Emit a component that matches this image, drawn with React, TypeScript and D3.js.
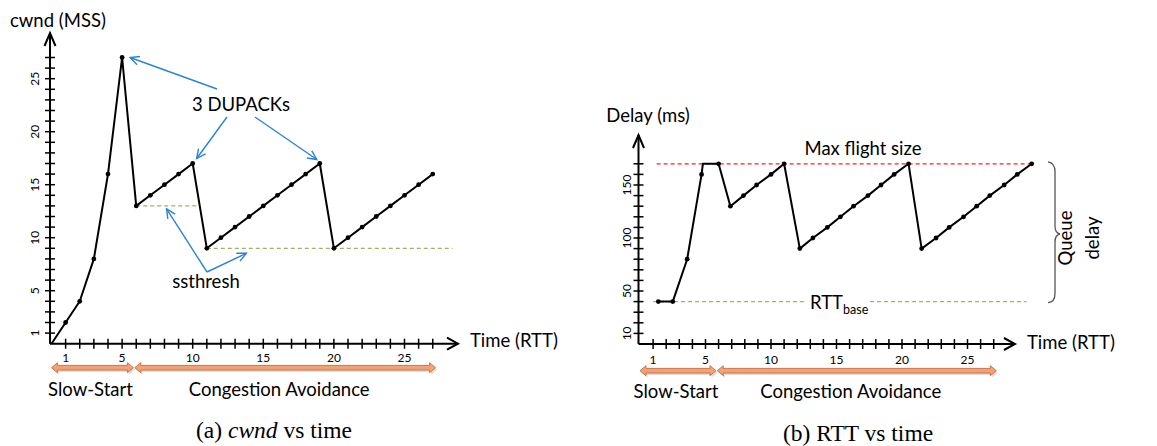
import React from 'react';
import * as d3 from 'd3';

const W = 1157;
const H = 446;

// ---------- chart (a): cwnd vs time ----------
const cwndTimes = [0, 1, 2, 3, 4, 5, 6, 7, 8, 9, 10, 11, 12, 13, 14, 15, 16, 17, 18, 19, 20, 21, 22, 23, 24, 25, 26, 27];
const cwndValues = [0, 2, 4, 8, 16, 27, 13, 14, 15, 16, 17, 9, 10, 11, 12, 13, 14, 15, 16, 17, 9, 10, 11, 12, 13, 14, 15, 16];
const cwndTickLabels = [1, 5, 10, 15, 20, 25];
const cwndMinorTicks = d3.range(1, 28);
const ssthreshLevels = [13, 9];
const ssthreshFrom = [6, 11];
const ssthreshTo = [10.5, 28.4];
const dupackTimes = [5, 10, 19];
const dupackValues = [27, 17, 17];

// ---------- chart (b): RTT vs time ----------
const rttTimes = [1.4, 2.5, 3.6, 4.7, 4.8, 6.0, 6.9, 7.9, 8.9, 10.0, 11.0, 12.2, 13.2, 14.3, 15.3, 16.3, 17.4, 18.4, 19.4, 20.5, 21.5, 22.6, 23.6, 24.7, 25.7, 26.7, 27.8, 28.8, 29.9];
const rttDelays = [40, 40, 80, 160, 170, 170, 130, 140, 150, 160, 170, 90, 100, 110, 120, 130, 140, 150, 160, 170, 90, 100, 110, 120, 130, 140, 150, 160, 170];
const rttVertexOnly = [4];
const delayTickLabels = [10, 50, 100, 150];
const delayMinorTicks = d3.range(10, 171, 10);
const rttBase = 40;
const rttBaseFrom = 1.0;
const rttBaseTo = 29.5;
const maxFlight = 170;
const maxFlightFrom = 1.27;
const maxFlightTo = 30.0;

// ---------- shared ----------
const timeTickLabels = [1, 5, 10, 15, 20, 25];
const timeMinorTicks = d3.range(1, 28);
const phaseNames = ['Slow-Start', 'Congestion Avoidance'];
const phaseFrom = [0, 5.9];
const phaseTo = [5.8, 27.2];

const SANS = 'Lato, "Open Sans", sans-serif';
const SERIF = '"Liberation Serif", "DejaVu Serif", serif';
const BLUE = '#2a84d2';
const GREEN = '#9bb36a';

function blueArrow(x1: number, y1: number, x2: number, y2: number, key: string) {
  const a = Math.atan2(y2 - y1, x2 - x1);
  const L = 10;
  const s = 0.45;
  const p1 = [x2 - L * Math.cos(a - s), y2 - L * Math.sin(a - s)];
  const p2 = [x2 - L * Math.cos(a + s), y2 - L * Math.sin(a + s)];
  return (
    <g key={key} stroke={BLUE} strokeWidth={1.4} fill="none">
      <line x1={x1} y1={y1} x2={x2} y2={y2} />
      <path d={`M${p1[0]},${p1[1]} L${x2},${y2} L${p2[0]},${p2[1]}`} />
    </g>
  );
}

function doubleArrow(x1: number, x2: number, y: number, key: string) {
  const sh = 2.3, hh = 5, hl = 6;
  const d = `M${x1},${y} L${x1 + hl},${y - hh} L${x1 + hl},${y - sh} L${x2 - hl},${y - sh} L${x2 - hl},${y - hh} L${x2},${y} L${x2 - hl},${y + hh} L${x2 - hl},${y + sh} L${x1 + hl},${y + sh} L${x1 + hl},${y + hh} Z`;
  return (
    <g key={key}>
      <path d={d} transform="translate(1.5,2)" fill="#bbbbbb" opacity={0.5} />
      <path d={d} fill="#f4a173" stroke="#c8774a" strokeWidth={1} />
    </g>
  );
}

function Axes(props: {
  x: d3.ScaleLinear<number, number>;
  y: d3.ScaleLinear<number, number>;
  xEnd: number;
  yTop: number;
  xTicks: number[];
  xLabels: number[];
  yTicks: number[];
  yLabels: number[];
  yLabelX: number;
  xLabelY: number;
}) {
  const { x, y, xEnd, yTop, xTicks, xLabels, yTicks, yLabels, yLabelX, xLabelY } = props;
  const ox = x(0) - 1.5;
  const oy = y(0);
  return (
    <g>
      <line x1={ox} y1={oy} x2={xEnd} y2={oy} stroke="#000" strokeWidth={2} />
      <line x1={ox} y1={oy} x2={ox} y2={yTop} stroke="#000" strokeWidth={2} />
      <path d={`M${xEnd - 11},${oy - 6} L${xEnd},${oy} L${xEnd - 11},${oy + 6}`} fill="none" stroke="#000" strokeWidth={2} />
      <path d={`M${ox - 5.5},${yTop + 13} L${ox},${yTop} L${ox + 5.5},${yTop + 13}`} fill="none" stroke="#000" strokeWidth={2} />
      {xTicks.map((t) => (
        <line key={'xt' + t} x1={x(t)} x2={x(t)} y1={oy - 5} y2={oy + 5} stroke="#000" strokeWidth={1.5} />
      ))}
      {yTicks.map((t) => (
        <line key={'yt' + t} x1={ox - 5} x2={ox + 5} y1={y(t)} y2={y(t)} stroke="#000" strokeWidth={1.5} />
      ))}
      {xLabels.map((t) => (
        <text key={'xl' + t} x={x(t)} y={xLabelY} textAnchor="middle" dominantBaseline="central" fontFamily={SANS} fontSize={12}>
          {t}
        </text>
      ))}
      {yLabels.map((t) => (
        <text key={'yl' + t} transform={`translate(${yLabelX},${y(t)}) rotate(-90)`} textAnchor="middle" dominantBaseline="central" fontFamily={SANS} fontSize={12}>
          {t}
        </text>
      ))}
    </g>
  );
}

export default function App() {
  // chart (a) scales
  const xA = d3.scaleLinear().domain([0, 27]).range([51.5, 51.5 + 27 * 14.12]);
  const yA = d3.scaleLinear().domain([0, 27]).range([343.7, 343.7 - 27 * 10.6]);
  // chart (b) scales
  const xB = d3.scaleLinear().domain([0, 27]).range([640, 640 + 27 * 13.1]);
  const yB = d3.scaleLinear().domain([0, 170]).range([344, 344 - 170 * 1.06]);

  const cwndPts: [number, number][] = cwndTimes.map((t, i) => [t, cwndValues[i]]);
  const rttPts: [number, number][] = rttTimes.map((t, i) => [t, rttDelays[i]]);

  const lineA = d3.line<[number, number]>().x((d) => xA(d[0])).y((d) => yA(d[1]));
  const lineB = d3.line<[number, number]>().x((d) => xB(d[0])).y((d) => yB(d[1]));

  // annotation tips derived from the data
  const dupOffsets = [[8, 0], [4, -5], [-3, -4]];
  const dupStarts = [[217, 89], [227, 117], [255, 117]];

  const ssTipA = [xA(8.15), yA(ssthreshLevels[0]) + 3];
  const ssTipB = [xA(13.8), yA(ssthreshLevels[1]) + 5];

  return (
    <svg width={W} height={H} style={{ position: 'absolute', left: 0, top: 0, background: '#fff' }}>
      <rect x={0} y={0} width={W} height={H} fill="#fff" />

      {/* ================= chart (a) ================= */}
      <text x={10} y={20} dominantBaseline="central" fontFamily={SANS} fontSize={18.5}>cwnd (MSS)</text>

      {ssthreshLevels.map((v, i) => (
        <line key={'ss' + i} x1={xA(ssthreshFrom[i])} x2={xA(ssthreshTo[i])} y1={yA(v)} y2={yA(v)} stroke={GREEN} strokeWidth={1.2} strokeDasharray="4,3" />
      ))}

      <Axes x={xA} y={yA} xEnd={458} yTop={33} xTicks={timeMinorTicks} xLabels={timeTickLabels} yTicks={cwndMinorTicks} yLabels={cwndTickLabels} yLabelX={34} xLabelY={357} />

      <path d={lineA(cwndPts) || ''} fill="none" stroke="#000" strokeWidth={2} strokeLinejoin="round" />
      {cwndPts.filter((d) => d[0] > 0).map((d, i) => (
        <circle key={'ca' + i} cx={xA(d[0])} cy={yA(d[1])} r={2.4} fill="#000" />
      ))}

      <text x={241} y={104} textAnchor="middle" dominantBaseline="central" fontFamily={SANS} fontSize={18.5}>3 DUPACKs</text>
      {dupackTimes.map((t, i) =>
        blueArrow(dupStarts[i][0], dupStarts[i][1], xA(t) + dupOffsets[i][0], yA(dupackValues[i]) + dupOffsets[i][1], 'dup' + i)
      )}

      <text x={206} y={281} textAnchor="middle" dominantBaseline="central" fontFamily={SANS} fontSize={18.5}>ssthresh</text>
      {blueArrow(207, 272, ssTipA[0], ssTipA[1], 'ssa')}
      {blueArrow(207, 272, ssTipB[0], ssTipB[1], 'ssb')}

      <text x={470} y={340} dominantBaseline="central" fontFamily={SANS} fontSize={18.5}>Time (RTT)</text>

      {phaseNames.map((n, i) => doubleArrow(xA(phaseFrom[i]), xA(phaseTo[i]), 367.7, 'pa' + i))}
      {phaseNames.map((n, i) => (
        <text key={'pla' + i} x={(xA(phaseFrom[i]) + xA(phaseTo[i])) / 2 - (i === 1 ? 6 : 2)} y={389} textAnchor="middle" dominantBaseline="central" fontFamily={SANS} fontSize={18.5}>{n}</text>
      ))}

      <text x={274} y={430} textAnchor="middle" dominantBaseline="central" fontFamily={SERIF} fontSize={23.5}>
        (a) <tspan fontStyle="italic">cwnd</tspan> vs time
      </text>

      {/* ================= chart (b) ================= */}
      <text x={648} y={115} textAnchor="middle" dominantBaseline="central" fontFamily={SANS} fontSize={18.5}>Delay (ms)</text>

      <line x1={xB(maxFlightFrom)} x2={xB(maxFlightTo)} y1={yB(maxFlight)} y2={yB(maxFlight)} stroke="#ff2020" strokeWidth={1.2} strokeDasharray="4,3" />
      <line x1={xB(rttBaseFrom)} x2={xB(rttBaseTo)} y1={yB(rttBase)} y2={yB(rttBase)} stroke={GREEN} strokeWidth={1.2} strokeDasharray="4,3" />

      <Axes x={xB} y={yB} xEnd={1015} yTop={135} xTicks={timeMinorTicks} xLabels={timeTickLabels} yTicks={delayMinorTicks} yLabels={delayTickLabels} yLabelX={626} xLabelY={359} />

      <path d={lineB(rttPts) || ''} fill="none" stroke="#000" strokeWidth={2} strokeLinejoin="round" />
      {rttPts.map((d, i) =>
        rttVertexOnly.includes(i) ? null : <circle key={'cb' + i} cx={xB(d[0])} cy={yB(d[1])} r={2.4} fill="#000" />
      )}

      <text x={863} y={148} textAnchor="middle" dominantBaseline="central" fontFamily={SANS} fontSize={18.5}>Max flight size</text>

      <rect x={807} y={292} width={62} height={24} fill="#fff" />
      <text x={810} y={309} fontFamily={SANS} fontSize={18.5}>
        RTT<tspan fontSize={12.5} dy={5}>base</tspan>
      </text>

      <path d={`M1048,${yB(maxFlight) - 2} Q1055,${yB(maxFlight) - 1} 1055,${yB(maxFlight) + 8} L1055,226 Q1055,233 1060,234 Q1055,235 1055,242 L1055,${yB(rttBase) - 8} Q1055,${yB(rttBase) + 1} 1048,${yB(rttBase) + 1}`} fill="none" stroke="#555" strokeWidth={1.3} />
      <text transform="translate(1065,238) rotate(-90)" textAnchor="middle" dominantBaseline="central" fontFamily={SANS} fontSize={18.5}>Queue</text>
      <text transform="translate(1092,238) rotate(-90)" textAnchor="middle" dominantBaseline="central" fontFamily={SANS} fontSize={18.5}>delay</text>

      <text x={1027} y={342} dominantBaseline="central" fontFamily={SANS} fontSize={18.5}>Time (RTT)</text>

      {phaseNames.map((n, i) => doubleArrow(xB(phaseFrom[i]), xB(phaseTo[i]), 370.7, 'pb' + i))}
      {phaseNames.map((n, i) => (
        <text key={'plb' + i} x={(xB(phaseFrom[i]) + xB(phaseTo[i])) / 2 - (i === 1 ? 6 : 2)} y={391} textAnchor="middle" dominantBaseline="central" fontFamily={SANS} fontSize={18.5}>{n}</text>
      ))}

      <text x={858} y={433} textAnchor="middle" dominantBaseline="central" fontFamily={SERIF} fontSize={23.5}>(b) RTT vs time</text>
    </svg>
  );
}
